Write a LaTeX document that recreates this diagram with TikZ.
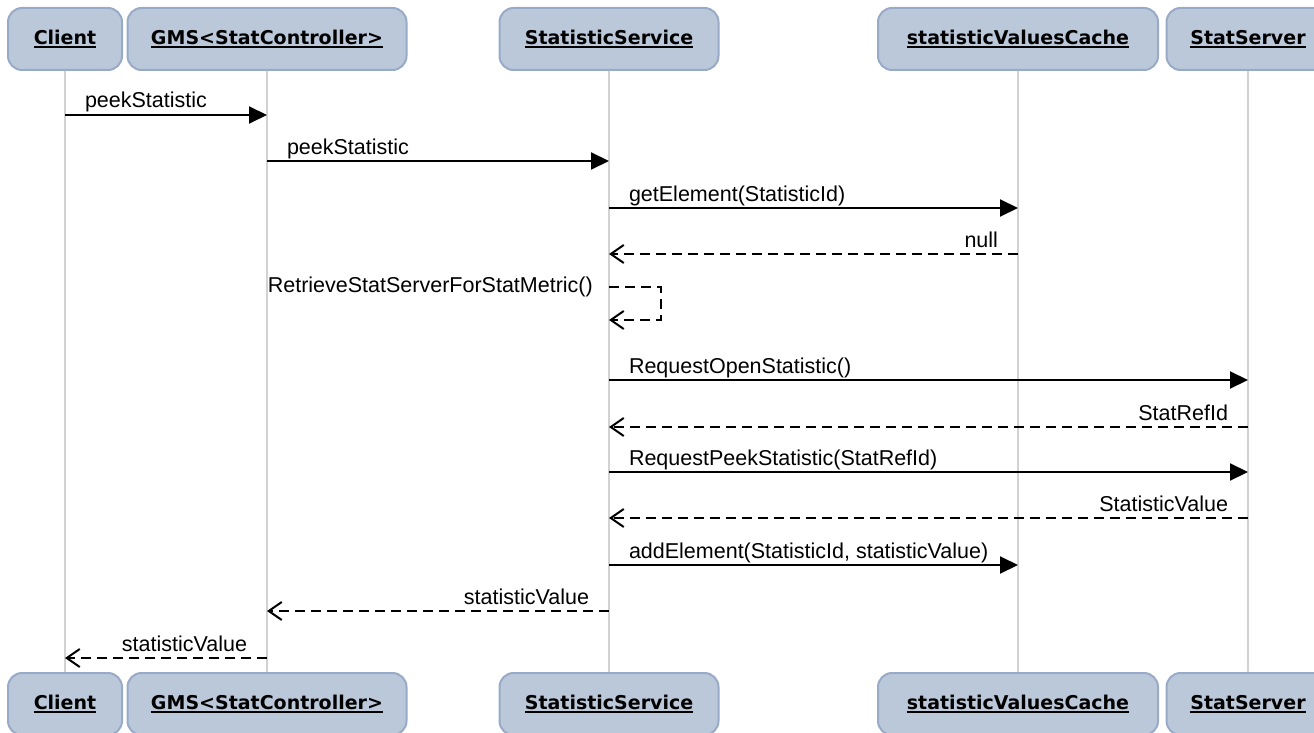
\documentclass[tikz,border=0pt]{standalone}
\usepackage{fontspec}
\setmainfont{Liberation Sans}
\newfontfamily\boxfont{DejaVu Sans}
\usetikzlibrary{arrows.meta,positioning}
\definecolor{boxfill}{RGB}{186,200,217}
\definecolor{boxline}{RGB}{152,170,199}
\definecolor{lifegray}{RGB}{210,210,210}
\newcommand{\ultitle}[1]{\setbox0=\hbox{\boxfont\bfseries #1}\copy0\llap{\rule[-4pt]{\wd0}{2pt}}}

\begin{document}
\begin{tikzpicture}[x=1pt,y=-1pt,
    obj/.style={draw=boxline, fill=boxfill, line width=2pt, rounded corners=14pt,
        minimum height=62pt, inner sep=0pt, font=\fontsize{19}{22}\selectfont},
    life/.style={draw=lifegray, line width=2pt},
    call/.style={line width=2pt, -{Triangle[length=18pt,width=17pt]}},
    reply/.style={line width=2pt, dash pattern=on 10pt off 6pt,
        -{Straight Barb[length=13pt,width=18pt]}},
    lbl/.style={inner sep=0pt, font=\fontsize{21.5}{24}\selectfont}]
    \useasboundingbox (0,0) rectangle (1314,733);

    % objects, top and bottom
    \node[obj, minimum width=114pt] (Ct) at (65,39) {\ultitle{Client}};
    \node[obj, minimum width=279pt] (Gt) at (267,39) {\ultitle{GMS<StatController>}};
    \node[obj, minimum width=219pt] (St) at (609,39) {\ultitle{StatisticService}};
    \node[obj, minimum width=280pt] (Vt) at (1018,39) {\ultitle{statisticValuesCache}};
    \node[obj, minimum width=163pt] (Rt) at (1248,39) {\ultitle{StatServer}};

    \node[obj, minimum width=114pt] (Cb) at (65,704) {\ultitle{Client}};
    \node[obj, minimum width=279pt] (Gb) at (267,704) {\ultitle{GMS<StatController>}};
    \node[obj, minimum width=219pt] (Sb) at (609,704) {\ultitle{StatisticService}};
    \node[obj, minimum width=280pt] (Vb) at (1018,704) {\ultitle{statisticValuesCache}};
    \node[obj, minimum width=163pt] (Rb) at (1248,704) {\ultitle{StatServer}};

    % lifelines
    \draw[life] (Ct) -- (Cb);
    \draw[life] (Gt) -- (Gb);
    \draw[life] (St) -- (Sb);
    \draw[life] (Vt) -- (Vb);
    \draw[life] (Rt) -- (Rb);

    % messages
    \draw[call] (Ct |- 0,115) -- node[lbl, pos=0, anchor=base west, xshift=19pt, yshift=7pt] (m1) {peekStatistic} (Gt |- 0,115);
    \draw[call] (Gt |- 0,161) -- node[lbl, pos=0, anchor=base west, xshift=19pt, yshift=7pt] (m2) {peekStatistic} (St |- 0,161);
    \draw[call] (St |- 0,208) -- node[lbl, pos=0, anchor=base west, xshift=19pt, yshift=7pt] (m3) {getElement(StatisticId)} (Vt |- 0,208);
    \draw[reply] (Vt |- 0,254) -- node[lbl, pos=0, anchor=base east, xshift=-19pt, yshift=7pt] (m4) {null} (St |- 0,254);

    \draw[reply] (St |- 0,287) -- ++(52,0) -- ++(0,33) -- (St |- 0,320);
    \node[lbl, anchor=east, xshift=-16pt] (m5) at (St |- 0,287) {RetrieveStatServerForStatMetric()};

    \draw[call] (St |- 0,380) -- node[lbl, pos=0, anchor=base west, xshift=19pt, yshift=7pt] (m6) {RequestOpenStatistic()} (Rt |- 0,380);
    \draw[reply] (Rt |- 0,427) -- node[lbl, pos=0, anchor=base east, xshift=-19pt, yshift=7pt] (m7) {StatRefId} (St |- 0,427);
    \draw[call] (St |- 0,472) -- node[lbl, pos=0, anchor=base west, xshift=19pt, yshift=7pt] (m8) {RequestPeekStatistic(StatRefId)} (Rt |- 0,472);
    \draw[reply] (Rt |- 0,518) -- node[lbl, pos=0, anchor=base east, xshift=-19pt, yshift=7pt] (m9) {StatisticValue} (St |- 0,518);
    \draw[call] (St |- 0,565) -- node[lbl, pos=0, anchor=base west, xshift=19pt, yshift=7pt] (m10) {addElement(StatisticId, statisticValue)} (Vt |- 0,565);
    \draw[reply] (St |- 0,611) -- node[lbl, pos=0, anchor=base east, xshift=-19pt, yshift=7pt] (m11) {statisticValue} (Gt |- 0,611);
    \draw[reply] (Gt |- 0,658) -- node[lbl, pos=0, anchor=base east, xshift=-19pt, yshift=7pt] (m12) {statisticValue} (Ct |- 0,658);
\end{tikzpicture}
\end{document}
